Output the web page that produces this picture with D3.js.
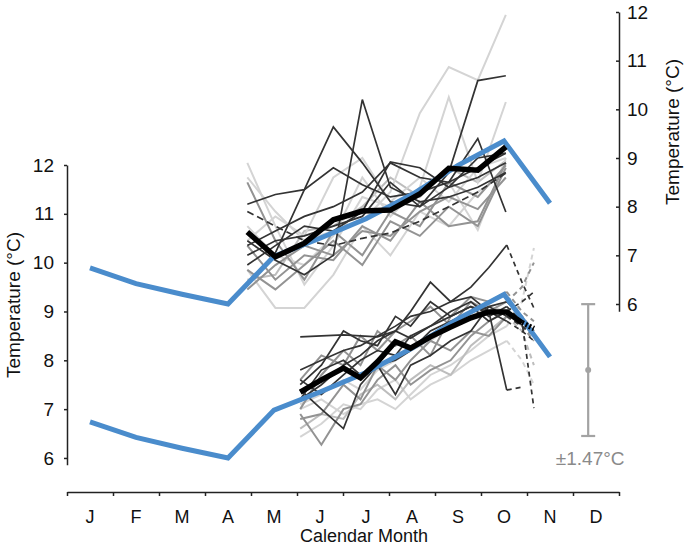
<!DOCTYPE html>
<meta charset="utf-8">
<script src="https://d3js.org/d3.v7.min.js"></script>
<style>
  body { margin: 0; background: #fff; }
  svg { font-family: "Liberation Sans", Arial, sans-serif; }
</style>
<div id="chart"></div>
<script>
// ---- data ----
const months = ["J", "F", "M", "A", "M", "J", "J", "A", "S", "O", "N", "D"];

// monthly climatology (same curve, drawn once per axis)
const climMonth = [0.5, 1.5, 2.5, 3.5, 4.5, 5.5, 6.5, 7.5, 8.5, 9.5, 10.5];
const climTemp = [6.74, 6.42, 6.2, 6.0, 6.98, 7.35, 7.75, 8.25, 8.85, 9.35, 8.07];

// upper group (right axis): sample dates in months
const upperX = [3.92, 4.53, 5.16, 5.79, 6.42, 7.03, 7.67, 8.30, 8.93, 9.54];
const upperMean = [7.48, 6.97, 7.25, 7.73, 7.91, 7.93, 8.26, 8.79, 8.75, 9.23];
const upperRuns = [
  [6.5, 6.6, 7.5, 7.6, 8.0, 8.6, 8.2, 8.8, 8.5, 8.95],
  [8.6, 7.9, 7.3, 7.5, 7.7, 8.3, 9.92, 10.87, 10.6, 11.94],
  [7.6, 7.0, 6.8, 7.4, 8.6, 7.8, 8.4, 10.25, 8.5, 10.15],
  [8.9, 7.6, 6.4, 7.2, 8.2, 8.0, 8.3, 8.5, 7.52, 9.0],
  [6.7, 5.92, 5.92, 6.6, 7.6, 7.0, 7.9, 7.6, 8.3, 8.7],
  [7.3, 7.8, 7.4, 8.6, 9.0, 8.1, 8.6, 8.1, 8.8, 9.0],
  [7.2, 6.5, 7.0, 6.9, 7.6, 7.3, 8.1, 7.6, 7.7, 8.9],
  [6.7, 6.3, 6.8, 7.3, 6.8, 7.7, 7.4, 8.0, 7.6, 8.8],
  [8.5, 7.3, 6.5, 7.5, 7.0, 7.9, 7.6, 8.5, 8.2, 8.85],
  [6.3, 6.8, 7.2, 7.0, 7.5, 7.4, 7.9, 8.2, 7.95, 8.6],
  [8.05, 8.25, 8.35, 8.8, 8.45, 8.2, 8.3, 8.5, 8.8, 9.1],
  [7.3, 6.9, 6.6, 7.0, 10.2, 8.4, 8.1, 8.2, 8.4, 8.7],
  [6.4, 7.05, 8.35, 9.64, 8.9, 8.1, 8.0, 8.4, 9.0, 9.1],
  [7.0, 7.3, 7.4, 7.6, 7.8, 8.5, 8.0, 8.7, 10.59, 10.69],
  [7.2, 7.5, 7.8, 8.0, 8.3, 8.9, 8.6, 8.5, 9.4, 7.89],
  [6.8, 7.2, 7.6, 7.5, 7.9, 8.92, 8.8, 8.4, 8.6, 8.9],
  [7.9, 7.6, 7.3, 7.2, 7.35, 7.46, 7.7, 8.0, 8.3, 8.69]
];
const upperTone = ["pale", "light", "light", "light", "light", "light", "mid", "mid", "mid", "mid",
  "dark", "dark", "dark", "dark", "dark", "dark", "darkdash"];

// lower group (left axis)
const lowerX = [5.07, 5.53, 6.01, 6.38, 6.75, 7.14, 7.47, 7.90, 8.34, 8.78, 9.17, 9.56, 9.89, 10.15];
const lowerMean = [7.35, 7.6, 7.84, 7.64, 7.97, 8.38, 8.25, 8.48, 8.68, 8.87, 8.99, 8.99, 8.77, 8.65];
const lowerRuns = [
  [6.43, 6.7, 7.1, 7.0, 7.4, 7.6, 7.2, 7.5, 7.7, 8.0, 8.2, 8.4, 8.0, 7.5],
  [7.0, 7.2, 6.9, 7.1, 7.2, 7.0, 7.3, 7.7, 7.9, 8.2, 8.5, 8.7, 9.2, 10.3],
  [7.1, 7.3, 7.6, 7.4, 7.8, 8.0, 8.2, 8.4, 8.7, 8.9, 9.1, 9.0, 8.7, 8.6],
  [6.6, 6.9, 6.8, 7.3, 7.5, 7.2, 7.6, 7.9, 7.7, 8.3, 8.6, 8.9, 8.6, 7.9],
  [7.0, 7.7, 8.2, 7.9, 8.6, 8.3, 8.5, 8.1, 8.9, 9.3, 9.2, 9.4, 9.0, 8.8],
  [6.8, 6.9, 7.5, 7.2, 7.9, 7.6, 8.0, 8.4, 8.2, 8.6, 8.5, 8.9, 8.7, 8.4],
  [6.9, 6.27, 7.0, 7.1, 7.6, 7.9, 7.5, 7.8, 8.0, 8.5, 8.8, 9.0, 8.8, 8.6],
  [7.6, 8.1, 7.9, 8.5, 8.2, 8.6, 8.8, 9.1, 8.7, 9.2, 9.0, 9.2, 9.5, 10.0],
  [8.48, 8.5, 8.52, 8.5, 8.48, 8.6, 8.45, 8.7, 8.9, 9.1, 8.8, 9.0, 9.2, 9.4],
  [7.8, 8.0, 8.2, 8.3, 8.5, 8.7, 8.9, 9.0, 9.2, 9.5, 9.9, 10.36, 9.6, 9.07],
  [7.2, 7.5, 7.9, 8.1, 8.4, 8.6, 9.0, 9.6, 9.2, 9.3, 9.0, 8.8, 8.6, 8.4],
  [7.5, 7.9, 8.6, 8.4, 8.3, 8.9, 8.7, 9.2, 8.9, 9.1, 9.0, 7.39, 7.45, null],
  [7.6, 7.3, 7.7, 8.0, 8.2, 8.1, 8.5, 8.7, 9.0, 9.2, 8.9, 9.1, 8.8, 7.02],
  [7.4, 7.0, 6.6, 7.5, 7.9, 8.0, 8.2, 8.6, 8.8, 9.0, 9.1, 8.9, 8.7, 8.5],
  [7.2, 7.8, 8.0, 7.7, 7.9, 7.3, 7.9, 8.1, 8.4, 8.6, 9.1, 9.2, 8.9, 8.6]
];
const lowerTone = ["light", "light", "light", "pale", "mid", "mid", "mid", "mid",
  "dark", "dark", "dark", "dark", "dark", "dark", "dark"];
const lowerDashFrom = 11;   // last samples are dashed
const meanDashFrom = 12;

// error bar
const errMonth = 11.33;
const errCenter = 7.8;
const errHalf = 1.35;
const errLabel = "±1.47°C";

// ---- layout ----
const width = 688;
const height = 547;

const svg = d3.select("#chart")
  .append("svg")
  .attr("width", width)
  .attr("height", height)
  .attr("viewBox", [0, 0, width, height]);

const x = d3.scaleLinear().domain([0, 12]).range([67, 619]);
const yL = d3.scaleLinear().domain([5.86, 12]).range([464.8, 165]);
const yR = d3.scaleLinear().domain([5.85, 12]).range([311.3, 12]);
const axisY = 492;

const toneColor = d3.scaleOrdinal()
  .domain(["pale", "light", "mid", "dark", "darkdash"])
  .range(["#bdbdbd", "#d4d4d4", "#939393", "#333333", "#333333"]);

// ---- axes ----
svg.append("g")
  .attr("transform", `translate(${x(0)},0)`)
  .call(d3.axisLeft(yL).tickValues(d3.range(6, 13)).tickFormat(d3.format("d"))
    .tickSize(3).tickSizeOuter(0).tickPadding(10))
  .call(g => g.selectAll("text").attr("font-size", 19).attr("fill", "#111"))
  .call(g => g.selectAll("line,path").attr("stroke", "#222").attr("stroke-width", 1.5));

svg.append("g")
  .attr("transform", `translate(${x(12)},0)`)
  .call(d3.axisRight(yR).tickValues(d3.range(6, 13)).tickFormat(d3.format("d"))
    .tickSizeInner(-3).tickSizeOuter(0).tickPadding(8))
  .call(g => g.selectAll("text").attr("font-size", 19).attr("fill", "#111"))
  .call(g => g.selectAll("line,path").attr("stroke", "#222").attr("stroke-width", 1.5));

svg.append("g")
  .attr("transform", `translate(0,${axisY})`)
  .call(d3.axisBottom(x).tickValues(d3.range(13)).tickSize(4).tickSizeOuter(0).tickFormat(""))
  .call(g => g.selectAll("line,path").attr("stroke", "#222").attr("stroke-width", 1.5));

svg.append("g")
  .selectAll("text")
  .data(months)
  .join("text")
  .attr("x", (d, i) => x(i + 0.5))
  .attr("y", axisY + 31)
  .attr("text-anchor", "middle")
  .attr("font-size", 18)
  .attr("fill", "#111")
  .text(d => d);

svg.append("text")
  .attr("x", 364)
  .attr("y", height - 5)
  .attr("text-anchor", "middle")
  .attr("font-size", 18)
  .attr("fill", "#111")
  .text("Calendar Month");

svg.append("text")
  .attr("transform", "translate(20,305) rotate(-90)")
  .attr("text-anchor", "middle")
  .attr("font-size", 19)
  .attr("fill", "#111")
  .text("Temperature (°C)");

svg.append("text")
  .attr("transform", "translate(679,132) rotate(-90)")
  .attr("text-anchor", "middle")
  .attr("font-size", 19)
  .attr("fill", "#111")
  .text("Temperature (°C)");

// ---- lines ----
function drawRun(g, xs, vals, y, color, w, dashFrom, dash, allDash) {
  const pts = xs.map((m, i) => [m, vals[i]]).filter(p => p[1] != null);
  const line = d3.line().x(p => x(p[0])).y(p => y(p[1]));
  const cut = dashFrom == null ? pts.length : Math.min(dashFrom + 1, pts.length);
  g.append("path")
    .attr("d", line(pts.slice(0, cut)))
    .attr("fill", "none")
    .attr("stroke", color)
    .attr("stroke-width", w)
    .attr("stroke-linejoin", "miter")
    .attr("stroke-dasharray", allDash ? dash : null);
  if (cut < pts.length) {
    g.append("path")
      .attr("d", line(pts.slice(cut - 1)))
      .attr("fill", "none")
      .attr("stroke", color)
      .attr("stroke-width", w)
      .attr("stroke-dasharray", dash);
  }
}

const runs = svg.append("g");

upperRuns.forEach((vals, i) => {
  const tone = upperTone[i];
  drawRun(runs, upperX, vals, yR, toneColor(tone), tone === "dark" || tone === "darkdash" ? 1.7 : 2,
    null, "7,4", tone === "darkdash");
});

lowerRuns.forEach((vals, i) => {
  const tone = lowerTone[i];
  drawRun(runs, lowerX, vals, yL, toneColor(tone), tone === "dark" ? 1.7 : 2,
    lowerDashFrom, "5,4", false);
});

// climatology on both axes
const clim = d3.zip(climMonth, climTemp);
[yR, yL].forEach(y => {
  svg.append("path")
    .attr("d", d3.line().x(p => x(p[0])).y(p => y(p[1]))(clim))
    .attr("fill", "none")
    .attr("stroke", "#4a8ccc")
    .attr("stroke-width", 5);
});

// mean runs
drawRun(svg, upperX, upperMean, yR, "#000", 5.5, null, null, false);
drawRun(svg, lowerX, lowerMean, yL, "#000", 5.5, meanDashFrom, "2,2", false);

// ---- error bar ----
const eb = svg.append("g").attr("stroke", "#a3a3a3").attr("stroke-width", 2.2);
eb.append("line")
  .attr("x1", x(errMonth)).attr("x2", x(errMonth))
  .attr("y1", yL(errCenter + errHalf)).attr("y2", yL(errCenter - errHalf));
[errCenter + errHalf, errCenter - errHalf].forEach(v => {
  eb.append("line")
    .attr("x1", x(errMonth) - 7).attr("x2", x(errMonth) + 7)
    .attr("y1", yL(v)).attr("y2", yL(v));
});
svg.append("circle")
  .attr("cx", x(errMonth)).attr("cy", yL(errCenter))
  .attr("r", 3).attr("fill", "#a3a3a3");
svg.append("text")
  .attr("x", x(errMonth) + 2)
  .attr("y", yL(errCenter - errHalf) + 29)
  .attr("text-anchor", "middle")
  .attr("font-size", 19)
  .attr("fill", "#8a8a8a")
  .text(errLabel);
</script>
